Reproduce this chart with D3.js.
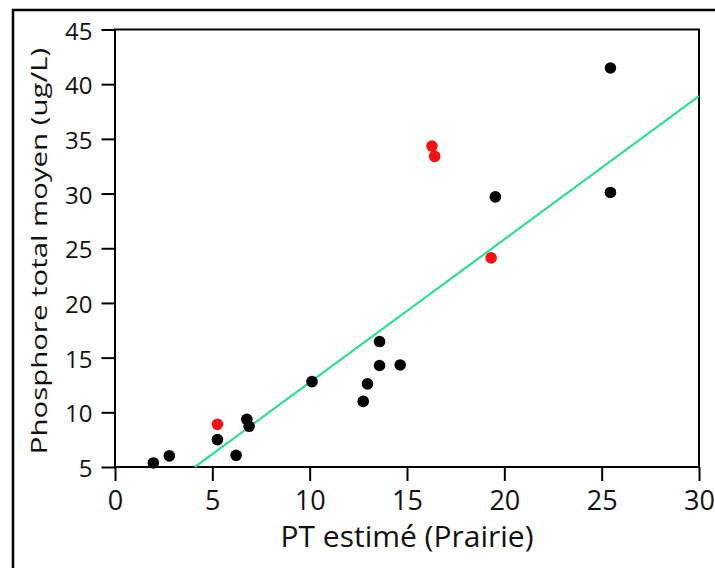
<!DOCTYPE html>
<html>
<head>
<meta charset="utf-8">
<script src="https://cdn.jsdelivr.net/npm/d3@7"></script>
<style>
  body { margin: 0; background: #fff; }
  text { font-family: "Open Sans", sans-serif; fill: #111; }
</style>
</head>
<body>
<svg id="chart" width="715" height="568"></svg>
<script>
// black points
const blackX = [1.97, 2.79, 5.26, 6.22, 6.77, 6.89, 10.12, 12.75, 12.97, 13.59, 13.59, 14.65, 19.54, 25.45, 25.45];
const blackY = [5.37, 6.02, 7.5, 6.07, 9.36, 8.72, 12.81, 11.0, 12.6, 16.47, 14.28, 14.33, 29.7, 30.1, 41.48];
// red points
const redX = [5.26, 16.28, 16.42, 19.32];
const redY = [8.9, 34.34, 33.4, 24.12];
// fitted line end points
const fitX = [4.1, 30];
const fitY = [5, 38.9];

const xTicks = [0, 5, 10, 15, 20, 25, 30];
const yTicks = [5, 10, 15, 20, 25, 30, 35, 40, 45];

const svg = d3.select('#chart');
const margin = {left: 115, top: 29.5, right: 699, bottom: 467};

// outer frame (only top and left visible)
svg.append('path')
    .attr('d', 'M13,580 V10 H730')
    .attr('fill', 'none')
    .attr('stroke', '#000')
    .attr('stroke-width', 2.5);

let x = d3.scaleLinear().domain([0, 30]).range([margin.left, margin.right]);
let y = d3.scaleLinear().domain([5, 45]).range([margin.bottom, margin.top]);

// plot box
svg.append('rect')
    .attr('x', margin.left).attr('y', margin.top)
    .attr('width', margin.right - margin.left)
    .attr('height', margin.bottom - margin.top)
    .attr('fill', 'none').attr('stroke', '#000').attr('stroke-width', 2);

let xAxis = svg.append('g')
    .attr('transform', 'translate(0,' + margin.bottom + ')')
    .call(d3.axisBottom(x).tickValues(xTicks).tickSize(14).tickPadding(10));
let yAxis = svg.append('g')
    .attr('transform', 'translate(' + margin.left + ',0)')
    .call(d3.axisLeft(y).tickValues(yTicks).tickSize(13.5).tickPadding(9));

[xAxis, yAxis].forEach(function(a){
    a.select('.domain').remove();
    a.attr('font-size', null).attr('font-family', null);
    a.selectAll('line').attr('stroke', '#000').attr('stroke-width', 2);
    a.selectAll('text').attr('fill', '#111');
});
xAxis.selectAll('text').style('font-size', '27px');
yAxis.selectAll('text').style('font-size', '24px').attr('dy', '0.4em');

// regression line
svg.append('line')
    .attr('x1', x(fitX[0])).attr('y1', y(fitY[0]))
    .attr('x2', x(fitX[1])).attr('y2', y(fitY[1]))
    .attr('stroke', '#33dd8f').attr('stroke-width', 2.2);

svg.append('g').selectAll('circle')
    .data(blackX.map((d, i) => [d, blackY[i]]))
    .enter().append('circle')
    .attr('cx', d => x(d[0])).attr('cy', d => y(d[1]))
    .attr('r', 5.8).attr('fill', '#000');

svg.append('g').selectAll('circle')
    .data(redX.map((d, i) => [d, redY[i]]))
    .enter().append('circle')
    .attr('cx', d => x(d[0])).attr('cy', d => y(d[1]))
    .attr('r', 5.8).attr('fill', '#f31212');

// axis titles
svg.append('text')
    .attr('x', 407).attr('y', 547)
    .attr('text-anchor', 'middle')
    .style('font-size', '30px')
    .text('PT estimé (Prairie)');

// y title is drawn long and thin like the original
svg.append('text')
    .attr('transform', 'translate(47,251) rotate(-90) scale(1.4,1)')
    .attr('text-anchor', 'middle')
    .style('font-size', '21px')
    .text('Phosphore total moyen (ug/L)');
</script>
</body>
</html>
